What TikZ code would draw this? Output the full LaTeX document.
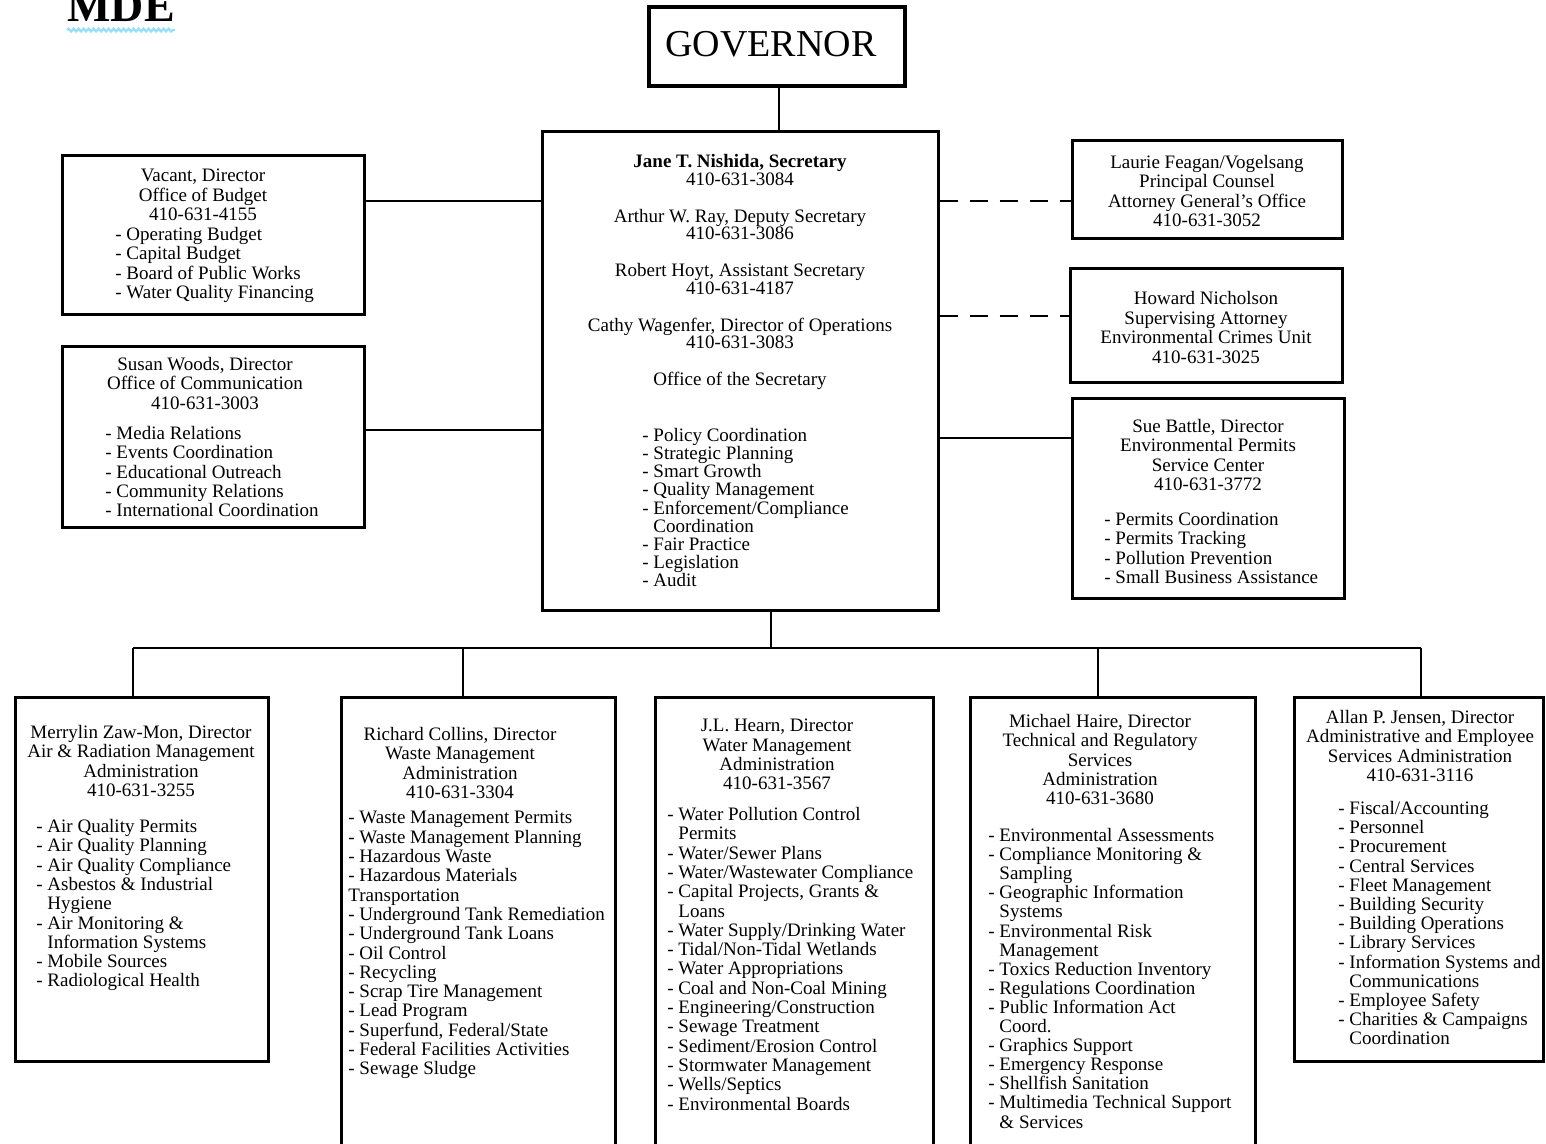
\documentclass[tikz,border=0pt]{standalone}
\usepackage{fontspec}
\setmainfont{Liberation Serif}
\usetikzlibrary{decorations.pathmorphing}
\newcommand\myind{\hphantom{-~}}
\begin{document}
\begin{tikzpicture}[x=0.5pt,y=-0.5pt,
 box/.style={draw, line width=1.5pt, inner sep=0},
 conn/.style={line width=1.3pt},
 dconn/.style={line width=1.3pt, dash pattern=on 9pt off 6pt},
 hdr/.style={font=\fontsize{9.5}{9.65}\selectfont, inner sep=0, align=center, anchor=north},
 lst/.style={font=\fontsize{9.5}{9.65}\selectfont, inner sep=0, align=left, anchor=north west}]
\useasboundingbox (0,0) rectangle (1546,1144);
\clip (0,0) rectangle (1546,1144);

% title
\node[font=\bfseries\fontsize{23}{23}\selectfont, inner sep=0, anchor=base west] (mde) at (67,22) {MDE};
\draw[cyan!40, line width=1.1pt, decorate, decoration={snake, amplitude=0.7pt, segment length=2.5pt}]
  ([yshift=-3.8pt]mde.south west) -- ([yshift=-3.8pt]mde.south east);

% boxes
\node[box, line width=2pt, minimum width=128pt, minimum height=39.5pt] (gov) at (777,46.5) {};
\node[font=\fontsize{19}{19}\selectfont, inner sep=0] (govt) at (771,44) {GOVERNOR};
\node[box, minimum width=198pt, minimum height=239pt] (sec) at (740,371) {};
\node[box, minimum width=151pt, minimum height=79.5pt] (bud) at (213,235.5) {};
\node[box, minimum width=151pt, minimum height=90pt] (com) at (213,437) {};
\node[box, minimum width=135pt, minimum height=49pt] (cou) at (1207,190) {};
\node[box, minimum width=136pt, minimum height=57pt] (nic) at (1206,326) {};
\node[box, minimum width=136pt, minimum height=100pt] (bat) at (1208,498) {};
\node[box, minimum width=126.5pt, minimum height=182pt] (air) at (141.5,879) {};
\node[box, minimum width=137pt, minimum height=231.5pt] (was) at (478,928.5) {};
\node[box, minimum width=139pt, minimum height=231.5pt] (wat) at (794,928.5) {};
\node[box, minimum width=142.5pt, minimum height=231.5pt] (tec) at (1112.5,928.5) {};
\node[box, minimum width=124.5pt, minimum height=182pt] (adm) at (1418.5,879) {};

% connectors
\coordinate (gx) at (779,0);
\draw[conn] (gov.south -| gx) -- (sec.north -| gx);
\coordinate (yb) at (0,201);
\coordinate (yc) at (0,430);
\coordinate (yn) at (0,316);
\coordinate (ys) at (0,438);
\draw[conn] (bud.east |- yb) -- (sec.west |- yb);
\draw[conn] (com.east |- yc) -- (sec.west |- yc);
\draw[dconn] (sec.east |- yb) -- (cou.west |- yb);
\draw[dconn] (sec.east |- yn) -- (nic.west |- yn);
\draw[conn] (sec.east |- ys) -- (bat.west |- ys);
\coordinate (jn) at (771,648);
\coordinate (hl) at (133,648);
\coordinate (hr) at (1421,648);
\coordinate (d2) at (463,648);
\coordinate (d4) at (1098,648);
\draw[conn] (sec.south -| jn) -- (jn);
\draw[conn] (hl) -- (hr);
\draw[conn] (hl) -- (hl |- air.north);
\draw[conn] (d2) -- (d2 |- was.north);
\draw[conn] (d4) -- (d4 |- tec.north);
\draw[conn] (hr) -- (hr |- adm.north);

% secretary
\node[hdr, font=\fontsize{9.5}{8.75}\selectfont] (sech) at (740,154) {\textbf{Jane T. Nishida, Secretary}\\410-631-3084\\[9.75pt]
Arthur W. Ray, Deputy Secretary\\410-631-3086\\[9.75pt]
Robert Hoyt, Assistant Secretary\\410-631-4187\\[9.75pt]
Cathy Wagenfer, Director of Operations\\410-631-3083\\[9.75pt]
Office of the Secretary};
\node[lst, font=\fontsize{9.5}{9.06}\selectfont] (secl) at (642,428) {- Policy Coordination\\- Strategic Planning\\- Smart Growth\\- Quality Management\\- Enforcement/Compliance\\\myind Coordination\\- Fair Practice\\- Legislation\\- Audit};

% budget
\node[hdr] (budh) at (203,169) {Vacant, Director\\Office of Budget\\410-631-4155};
\node[lst] (budl) at (115,227) {- Operating Budget\\- Capital Budget\\- Board of Public Works\\- Water Quality Financing};

% communication
\node[hdr] (comh) at (205,357) {Susan Woods, Director\\Office of Communication\\410-631-3003};
\node[lst] (coml) at (105,426) {- Media Relations\\- Events Coordination\\- Educational Outreach\\- Community Relations\\- International Coordination};

% counsel
\node[hdr] (couh) at (1207,155) {Laurie Feagan/Vogelsang\\Principal Counsel\\Attorney General's Office\\410-631-3052};

% nicholson
\node[hdr, font=\fontsize{9.5}{9.8}\selectfont] (nich) at (1206,291) {Howard Nicholson\\Supervising Attorney\\Environmental Crimes Unit\\410-631-3025};

% battle
\node[hdr] (bath) at (1208,419) {Sue Battle, Director\\Environmental Permits\\Service Center\\410-631-3772};
\node[lst] (batl) at (1104,512) {- Permits Coordination\\- Permits Tracking\\- Pollution Prevention\\- Small Business Assistance};

% air
\node[hdr] (airh) at (141,725) {Merrylin Zaw-Mon, Director\\Air \& Radiation Management\\Administration\\410-631-3255};
\node[lst] (airl) at (36,819) {- Air Quality Permits\\- Air Quality Planning\\- Air Quality Compliance\\- Asbestos \& Industrial\\\myind Hygiene\\- Air Monitoring \&\\\myind Information Systems\\- Mobile Sources\\- Radiological Health};

% waste
\node[hdr] (wash) at (460,727) {Richard Collins, Director\\Waste Management\\Administration\\410-631-3304};
\node[lst] (wasl) at (348,811) {- Waste Management Permits\\- Waste Management Planning\\- Hazardous Waste\\- Hazardous Materials\\Transportation\\- Underground Tank Remediation\\- Underground Tank Loans\\- Oil Control\\- Recycling\\- Scrap Tire Management\\- Lead Program\\- Superfund, Federal/State\\- Federal Facilities Activities\\- Sewage Sludge};

% water
\node[hdr] (wath) at (777,719) {J.L. Hearn, Director\\Water Management\\Administration\\410-631-3567};
\node[lst] (watl) at (667,807) {- Water Pollution Control\\\myind Permits\\- Water/Sewer Plans\\- Water/Wastewater Compliance\\- Capital Projects, Grants \&\\\myind Loans\\- Water Supply/Drinking Water\\- Tidal/Non-Tidal Wetlands\\- Water Appropriations\\- Coal and Non-Coal Mining\\- Engineering/Construction\\- Sewage Treatment\\- Sediment/Erosion Control\\- Stormwater Management\\- Wells/Septics\\- Environmental Boards};

% technical
\node[hdr] (tech) at (1100,714) {Michael Haire, Director\\Technical and Regulatory\\Services\\Administration\\410-631-3680};
\node[lst, font=\fontsize{9.5}{9.55}\selectfont] (tecl) at (988,828) {- Environmental Assessments\\- Compliance Monitoring \&\\\myind Sampling\\- Geographic Information\\\myind Systems\\- Environmental Risk\\\myind Management\\- Toxics Reduction Inventory\\- Regulations Coordination\\- Public Information Act\\\myind Coord.\\- Graphics Support\\- Emergency Response\\- Shellfish Sanitation\\- Multimedia Technical Support\\\myind \& Services};

% admin
\node[hdr] (admh) at (1420,710) {Allan P. Jensen, Director\\Administrative and Employee\\Services Administration\\410-631-3116};
\node[lst, font=\fontsize{9.5}{9.6}\selectfont] (adml) at (1338,801) {- Fiscal/Accounting\\- Personnel\\- Procurement\\- Central Services\\- Fleet Management\\- Building Security\\- Building Operations\\- Library Services\\- Information Systems and\\\myind Communications\\- Employee Safety\\- Charities \& Campaigns\\\myind Coordination};
\end{tikzpicture}
\end{document}
